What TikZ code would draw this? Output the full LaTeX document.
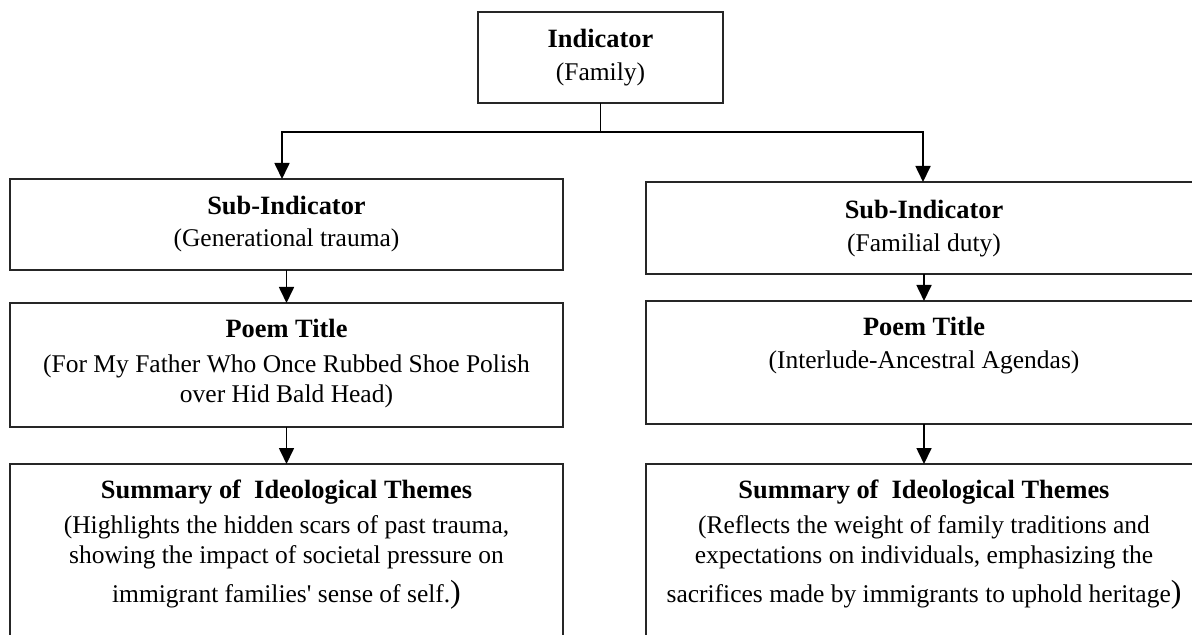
\documentclass[tikz,border=0pt]{standalone}
\usepackage{fontspec}
\setmainfont{Liberation Serif}
\usetikzlibrary{arrows.meta}
% closing parenthesis set a little larger, as at the end of the summaries
\newcommand\bigclose{{\fontsize{16pt}{15pt}\selectfont)}}
% box headings, set slightly larger than the body text
\newcommand\headline[1]{{\fontsize{13.2pt}{15pt}\selectfont\bfseries #1}}
\begin{document}
\begin{tikzpicture}[x=0.5pt,y=-0.5pt,
  box/.style={draw=black!85, line width=0.7pt, anchor=north west,
    inner sep=0pt, outer sep=0pt},
  txt/.style={anchor=base, inner sep=0pt,
    font=\fontsize{12.75pt}{15pt}\selectfont},
  link/.style={line width=0.85pt, -{Triangle[width=7.5pt,length=8pt]}},
  bus/.style={line width=1pt, line cap=rect},
  stem/.style={line width=0.75pt}]
\useasboundingbox (0,0) rectangle (1192,635);
\clip (0,0) rectangle (1192,635);

% top indicator
\node[box, minimum width=122.5pt, minimum height=45.5pt] (top) at (478,12) {};
\node[txt] (topT) at (600.5,48)
  {\parbox[t]{120pt}{\centering\headline{Indicator}\\[1.5pt](Family)}};

% left column
\node[box, minimum width=276.5pt, minimum height=45.5pt] (lsub) at (10,179) {};
\node[txt] (lsubT) at (286.5,215)
  {\parbox[t]{270pt}{\centering\headline{Sub-Indicator}\\[1pt](Generational trauma)}};

\node[box, minimum width=276.5pt, minimum height=62pt] (lpoem) at (10,303) {};
\node[txt] (lpoemT) at (286.5,338)
  {\parbox[t]{270pt}{\centering\headline{Poem Title}\\[2.5pt](For My Father Who Once Rubbed Shoe Polish\\over Hid Bald Head)}};

\node[box, minimum width=276.5pt, minimum height=110pt] (lsum) at (10,464) {};
\node[txt] (lsumT) at (286.5,498)
  {\parbox[t]{270pt}{\centering\headline{Summary of\ \ Ideological Themes}\\[2.5pt](Highlights the hidden scars of past trauma,\\showing the impact of societal pressure on\\[4.5pt]immigrant families\textquotesingle{} sense of self.\bigclose}};

% right column
\node[box, minimum width=278pt, minimum height=46pt] (rsub) at (646,182) {};
\node[txt] (rsubT) at (924,219)
  {\parbox[t]{270pt}{\centering\headline{Sub-Indicator}\\[1.5pt](Familial duty)}};

\node[box, minimum width=278pt, minimum height=61.5pt] (rpoem) at (646,301) {};
\node[txt] (rpoemT) at (924,336)
  {\parbox[t]{270pt}{\centering\headline{Poem Title}\\[1.5pt](Interlude-Ancestral Agendas)}};

\node[box, minimum width=278pt, minimum height=110pt] (rsum) at (646,464) {};
\node[txt] (rsumT) at (924,498)
  {\parbox[t]{272pt}{\centering\headline{Summary of\ \ Ideological Themes}\\[2.5pt](Reflects the weight of family traditions and\\expectations on individuals, emphasizing the\\[4.5pt]sacrifices made by immigrants to uphold heritage\bigclose}};

% connectors: stem, horizontal bus, then arrows down each column
\coordinate (hub) at (600.5,132);
\coordinate (busL) at (282,132);
\coordinate (busR) at (923,132);
\draw[stem] (top.south) -- (hub);
\draw[bus] (busL) -- (busR);
\draw[link] (busL) -- (busL |- lsub.north);
\draw[link] (busR) -- (busR |- rsub.north);
\draw[link] (lsub.south) -- (lpoem.north);
\draw[link] (lpoem.south) -- (lsum.north);
\draw[link] (rsub.south) -- (rpoem.north);
\draw[link] (rpoem.south) -- (rsum.north);
\end{tikzpicture}
\end{document}
